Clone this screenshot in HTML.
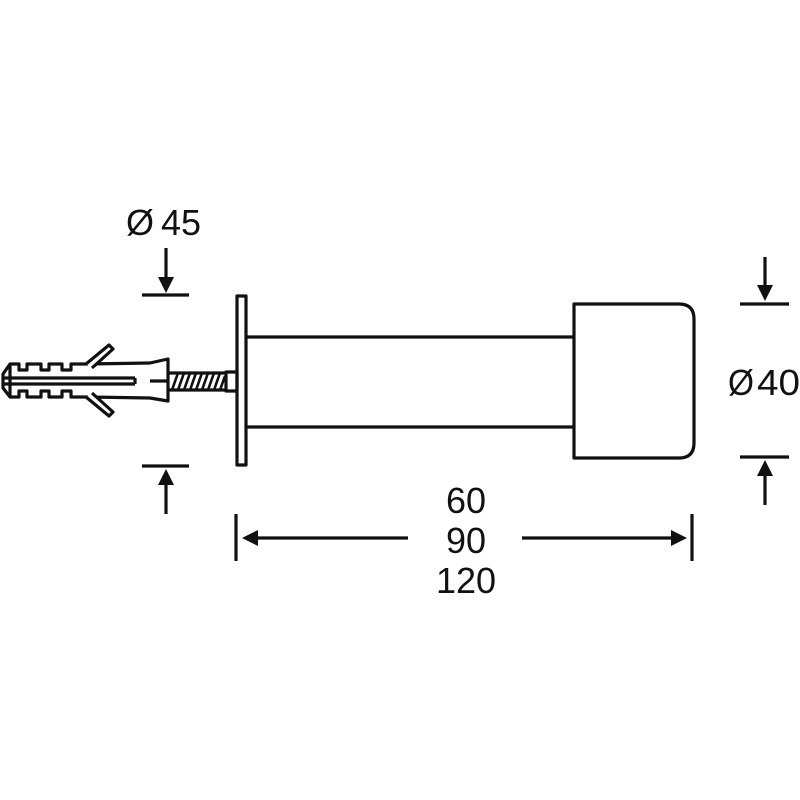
<!DOCTYPE html>
<html><head><meta charset="utf-8"><style>
html,body{margin:0;padding:0;background:#fff}
svg{display:block}
text{font-family:"Liberation Sans","DejaVu Sans",sans-serif;font-size:36px;fill:#111}
</style></head><body>
<svg width="800" height="800" viewBox="0 0 800 800" xmlns="http://www.w3.org/2000/svg">
<g fill="none" stroke="#111" stroke-width="3.2" stroke-linejoin="round">
  <rect x="237" y="296" width="9" height="169" fill="#fff"/>
  <line x1="246" y1="337" x2="574" y2="337"/>
  <line x1="246" y1="427" x2="574" y2="427"/>
  <path d="M574 304 H679 Q694 304 694 319 V443 Q694 458 679 458 H574 Z" fill="#fff"/>
  <rect x="226" y="372" width="11" height="19"/>
  <line x1="168" y1="373" x2="226" y2="373"/>
  <line x1="168" y1="390" x2="226" y2="390"/>
  <g stroke-width="2.6">
    <line x1="172" y1="390" x2="178" y2="373"/><line x1="178" y1="390" x2="184" y2="373"/>
    <line x1="184" y1="390" x2="190" y2="373"/><line x1="190" y1="390" x2="196" y2="373"/>
    <line x1="196" y1="390" x2="202" y2="373"/><line x1="202" y1="390" x2="208" y2="373"/>
    <line x1="208" y1="390" x2="214" y2="373"/><line x1="214" y1="390" x2="220" y2="373"/>
    <line x1="220" y1="390" x2="225" y2="376"/>
  </g>
  <path d="M10 364 H19 V370 H27 V364 H41 V370 H49 V364 H62 V370 H71 V364 H86 L150 363 L168 359 V401 L150 398 L86 397 H71 V391 H62 V397 H49 V391 H41 V397 H27 V391 H19 V397 H10 L3 388 V374 Z" fill="#fff"/>
  <line x1="3" y1="378" x2="135" y2="378"/>
  <line x1="3" y1="384" x2="135" y2="384"/>
  <line x1="135" y1="378" x2="135" y2="384"/>
  <line x1="150" y1="381" x2="167" y2="381"/>
  <line x1="10" y1="364" x2="10" y2="397"/>
  <path d="M86 364 L109 345 L113 349 L92 368" fill="#fff"/>
  <path d="M86 397 L109 416 L113 412 L92 393" fill="#fff"/>
  <line x1="142" y1="295" x2="189" y2="295"/>
  <line x1="142" y1="466" x2="189" y2="466"/>
  <line x1="166" y1="248" x2="166" y2="278"/>
  <line x1="166" y1="484" x2="166" y2="514"/>
  <line x1="740" y1="304" x2="789" y2="304"/>
  <line x1="740" y1="457" x2="789" y2="457"/>
  <line x1="765" y1="257" x2="765" y2="286"/>
  <line x1="765" y1="475" x2="765" y2="505"/>
  <line x1="236" y1="514" x2="236" y2="561"/>
  <line x1="692" y1="514" x2="692" y2="561"/>
  <line x1="250" y1="538" x2="408" y2="538"/>
  <line x1="522" y1="538" x2="680" y2="538"/>
</g>
<g fill="#111">
  <polygon points="158,277 174,277 166,293"/>
  <polygon points="158,485 174,485 166,469"/>
  <polygon points="757,285 773,285 765,301"/>
  <polygon points="757,476 773,476 765,460"/>
  <polygon points="242,538 258,530 258,546"/>
  <polygon points="687,538 671,530 671,546"/>
</g>
<text x="126" y="235" textLength="28" lengthAdjust="spacingAndGlyphs">Ø</text><text x="161" y="235" textLength="40" lengthAdjust="spacingAndGlyphs">45</text>
<text x="728" y="395" textLength="26" lengthAdjust="spacingAndGlyphs">Ø</text><text x="757" y="395" textLength="43" lengthAdjust="spacingAndGlyphs">40</text>
<text x="466" y="513" text-anchor="middle">60</text>
<text x="466" y="553" text-anchor="middle">90</text>
<text x="466" y="593" text-anchor="middle">120</text>
</svg>
</body></html>
